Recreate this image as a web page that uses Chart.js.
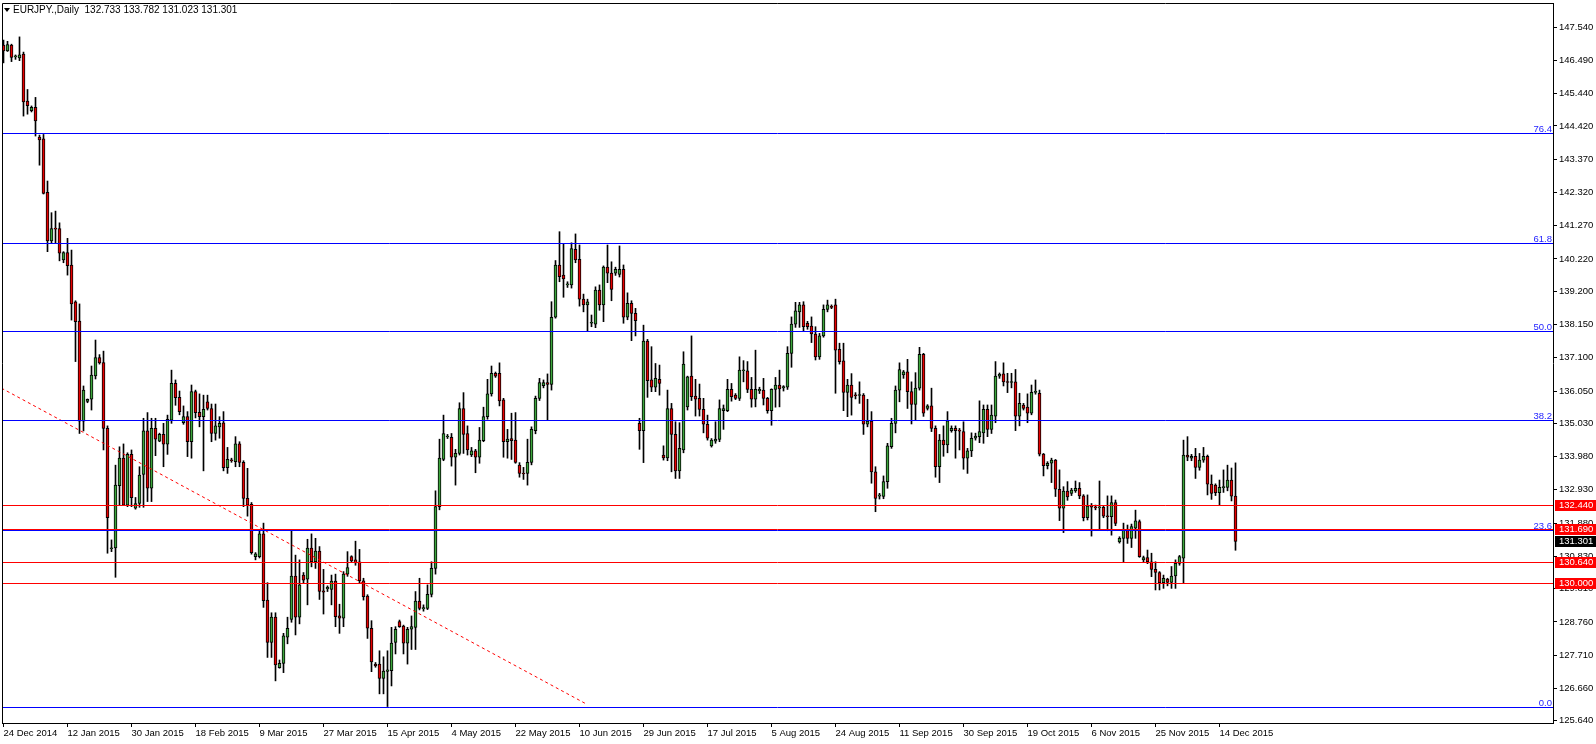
<!DOCTYPE html>
<html>
<head>
<meta charset="utf-8">
<script src="https://cdn.jsdelivr.net/npm/chart.js@4.4.1/dist/chart.umd.min.js"></script>
<style>
  html, body { margin: 0; padding: 0; background: #fff; }
  #wrap { width: 1596px; height: 744px; }
</style>
</head>
<body>
<div id="wrap"><canvas id="chart" width="1596" height="744"></canvas></div>
<script>
// EURJPY daily bars, one row per 16 bars (label spacing)
const opens = [
  146.97,146.79,146.97,146.60,146.57,146.69,145.20,144.90,145.01,144.07,144.01,142.32,140.79,141.18,141.18,140.19,
  140.42,140.03,138.87,138.26,135.10,135.72,135.79,136.53,137.11,136.95,134.87,131.07,131.10,133.06,133.93,132.45,
  134.05,132.35,132.50,133.42,134.79,132.98,134.87,134.47,134.68,134.37,135.13,136.29,135.85,135.05,135.24,134.45,
  136.03,135.38,135.24,135.71,135.50,134.71,134.92,135.05,133.63,133.87,133.82,134.38,133.80,132.66,132.47,130.82,
  130.82,131.54,129.45,128.11,128.91,127.32,127.45,128.28,128.84,130.21,128.91,130.24,130.11,131.09,130.66,131.00,
  129.74,129.80,129.79,130.05,128.95,128.88,130.27,130.82,130.72,130.66,130.06,129.58,128.56,127.43,127.43,126.98,
  127.20,127.22,128.11,128.77,128.63,128.09,128.53,128.59,129.42,129.17,129.19,129.63,130.45,132.40,133.89,134.60,
  134.59,133.96,134.08,135.50,134.71,134.03,134.16,133.96,134.48,135.24,135.96,136.61,136.61,135.77,134.45,134.55,
  134.50,133.71,133.45,133.45,133.80,134.80,135.82,136.22,136.32,136.26,138.38,140.03,139.71,139.40,139.40,140.52,
  140.21,138.95,138.77,138.19,138.16,139.24,138.77,139.96,139.77,139.77,139.73,139.89,138.38,138.82,138.50,135.03,
  134.80,137.63,136.40,136.17,136.42,134.03,133.94,135.50,134.68,133.53,134.19,135.55,136.52,135.89,135.82,135.47,
  135.00,134.32,134.47,134.52,135.43,135.43,136.10,135.92,135.82,136.69,136.69,136.10,135.79,136.06,136.08,135.82,
  135.43,136.10,136.24,136.15,136.17,137.24,138.16,138.55,138.77,138.19,138.10,137.85,137.13,137.79,138.63,138.71,
  138.77,137.37,137.00,136.01,136.24,135.92,135.91,135.92,135.00,135.10,133.50,132.73,132.72,133.19,134.29,135.03,
  136.08,136.56,136.66,136.03,135.63,136.14,137.21,135.50,135.58,134.87,133.66,134.50,134.35,134.80,134.87,134.82,
  134.77,133.93,134.16,134.56,134.61,134.73,135.47,134.84,135.26,136.52,136.59,136.34,136.32,136.34,135.26,135.61,
  135.54,135.35,136.01,135.98,134.06,133.69,133.77,133.87,132.95,132.35,132.89,132.82,132.90,132.98,132.74,132.05,
  132.40,132.38,132.36,132.38,132.10,132.08,132.53,131.29,131.40,131.66,131.40,131.72,131.93,130.72,130.79,130.66,
  130.42,130.32,130.00,130.11,130.01,130.21,130.61,130.77,134.03,133.93,133.99,133.64,133.87,133.99,133.11,133.08,
  132.84,133.00,133.01,133.24,132.733
];
const highs = [
  147.13,147.09,147.00,146.66,147.23,146.75,145.57,145.05,145.32,144.13,144.15,142.68,141.68,141.73,141.36,140.45,
  140.87,140.50,138.90,138.80,136.21,135.80,136.84,137.66,137.20,137.31,134.95,131.35,133.71,134.29,134.38,134.10,
  134.19,132.69,133.66,135.19,135.37,135.19,135.19,134.72,135.03,135.29,136.71,136.40,136.05,135.58,135.40,136.24,
  136.08,135.96,135.92,135.92,135.64,135.64,135.24,135.40,134.27,133.93,134.61,134.45,133.85,133.61,132.53,130.95,
  131.66,131.88,130.00,129.05,129.05,127.56,128.40,128.91,131.68,130.87,130.72,130.32,131.37,131.54,131.40,131.14,
  130.42,129.90,130.24,130.27,129.32,130.35,130.98,130.85,131.31,131.05,130.14,129.62,128.80,127.48,127.85,127.66,
  127.85,128.59,128.61,128.82,128.66,128.59,128.95,129.72,130.14,129.30,129.93,130.66,132.90,134.53,135.29,134.68,
  134.71,134.21,135.68,136.00,134.95,134.27,134.21,134.90,135.54,136.42,136.84,136.65,136.94,135.82,134.84,135.35,
  135.37,133.79,133.64,134.53,134.92,135.89,136.45,136.40,136.59,138.87,140.17,141.08,140.71,139.50,140.73,141.01,
  140.66,139.11,138.95,138.45,139.34,139.40,140.00,140.66,140.13,139.96,140.63,140.03,139.15,138.90,138.66,135.19,
  138.13,137.68,137.45,136.92,136.87,134.32,136.08,135.66,135.08,135.05,137.29,136.52,137.79,136.42,136.27,135.82,
  135.29,134.55,135.08,135.77,135.61,136.42,136.29,135.97,137.13,137.01,136.98,136.48,137.34,136.17,136.45,135.85,
  136.12,136.48,136.71,136.22,137.45,138.39,138.85,138.85,138.87,138.25,138.39,138.08,137.87,138.77,138.92,138.77,
  138.95,137.56,137.56,136.42,136.60,136.00,136.34,135.97,135.79,135.40,133.66,132.82,133.37,134.40,135.19,136.21,
  136.94,136.70,137.05,136.34,136.63,137.43,137.24,135.62,136.14,134.95,134.68,134.95,135.40,134.95,134.95,134.87,
  135.08,134.24,134.73,134.72,135.74,135.61,135.61,135.61,136.98,136.62,136.94,136.61,136.61,136.73,135.98,135.66,
  135.96,136.24,136.40,136.08,134.08,133.82,133.93,133.89,133.56,133.03,133.19,132.98,133.21,133.16,132.78,132.77,
  132.50,132.45,133.21,132.42,132.74,132.74,132.61,131.45,131.88,131.82,131.85,132.29,131.98,130.84,131.03,130.93,
  130.66,130.35,130.24,130.14,130.51,130.72,130.86,134.50,134.61,134.05,134.24,134.08,134.27,134.03,133.40,133.12,
  133.24,133.56,133.71,133.62,133.782
];
const lows = [
  146.41,146.77,146.45,146.52,146.48,144.73,144.79,144.86,144.10,143.18,142.27,140.45,140.71,140.71,140.16,140.10,
  139.71,138.29,136.98,134.71,134.79,135.68,135.45,136.43,136.90,134.19,130.93,130.98,130.17,132.45,132.43,132.40,
  132.40,132.32,132.38,132.38,132.56,132.56,134.01,134.45,133.66,134.05,135.03,135.60,135.30,135.00,133.98,133.93,
  135.20,134.92,133.53,135.45,134.45,134.50,134.56,133.53,133.45,133.80,133.66,133.66,132.40,132.10,130.90,130.72,
  130.78,129.22,127.64,127.64,126.90,127.30,127.16,128.07,128.75,128.35,128.70,129.98,129.30,130.50,130.45,129.47,
  129.01,129.72,129.30,128.61,128.40,128.61,130.20,130.65,130.55,129.98,129.45,128.24,127.19,127.33,126.49,126.49,
  126.09,126.74,127.75,128.59,127.75,127.43,127.89,127.89,129.14,129.10,129.15,129.55,130.27,132.30,133.85,134.55,
  133.68,133.08,134.03,134.08,134.03,133.98,133.47,133.77,134.45,135.16,135.89,136.48,135.58,133.96,133.93,133.89,
  133.77,133.33,133.26,133.08,133.72,134.70,135.75,136.15,135.13,136.08,138.35,139.50,139.01,139.32,139.30,140.10,
  138.73,138.55,137.95,138.08,138.05,138.60,138.24,139.47,138.90,139.70,139.65,138.19,138.30,137.64,137.79,134.21,
  133.79,135.85,136.03,136.03,135.92,133.87,133.85,133.50,133.29,133.29,134.10,135.45,135.75,135.26,135.26,134.73,
  134.50,134.28,134.40,134.45,134.84,135.40,135.73,135.78,135.75,136.34,136.00,135.54,135.55,135.97,135.61,135.35,
  134.97,135.54,135.55,136.05,136.10,136.80,138.06,138.06,137.95,138.00,137.58,137.03,137.05,137.75,138.55,138.65,
  135.98,136.90,135.43,135.24,135.29,135.80,135.66,134.68,134.92,133.14,132.24,132.64,132.65,132.98,134.24,134.73,
  135.71,136.45,135.50,135.01,135.13,136.08,135.25,135.45,134.77,133.33,133.16,133.99,134.10,134.75,133.93,134.19,
  133.58,133.45,133.98,134.50,134.42,134.40,134.61,134.71,135.05,136.45,136.21,136.00,136.15,134.80,134.95,135.45,
  135.05,135.30,135.95,134.00,133.37,133.59,133.16,132.72,131.96,131.58,132.60,132.75,132.85,132.65,131.95,131.98,
  131.47,132.30,131.66,132.05,131.64,131.50,131.80,131.25,130.66,131.24,131.11,131.40,130.80,130.65,130.60,130.19,
  129.77,129.77,129.82,129.90,129.82,129.82,130.55,129.98,133.85,133.85,133.29,133.55,133.80,132.77,132.63,132.75,
  132.45,132.85,132.90,132.58,131.023
];
const closes = [
  146.79,146.99,146.58,146.62,146.66,145.18,145.06,145.01,144.58,143.98,142.29,140.79,141.18,141.16,140.40,140.42,
  140.01,138.80,138.24,135.10,136.08,135.79,136.55,137.11,136.94,134.87,132.05,131.10,133.08,133.93,132.45,134.05,
  132.68,132.50,133.40,134.79,132.98,134.87,134.53,134.68,134.37,135.16,136.29,135.84,135.40,135.24,134.45,136.03,
  135.37,135.24,135.47,135.50,134.71,134.95,135.03,133.63,133.89,133.85,134.38,133.80,132.66,132.45,130.95,130.91,
  131.54,129.43,128.11,128.91,127.40,127.45,128.32,128.56,130.21,128.91,129.93,130.08,131.09,130.66,131.00,129.72,
  129.70,129.86,130.05,128.93,128.88,130.27,130.48,130.69,130.62,130.06,129.56,128.56,127.50,127.37,126.98,127.21,
  127.25,128.09,128.53,128.61,128.09,128.53,128.61,129.42,129.19,129.21,129.63,130.45,132.40,133.93,134.71,134.62,
  133.96,134.08,135.50,134.68,134.19,134.16,133.96,134.50,135.24,135.96,136.61,136.52,135.74,134.45,134.53,134.48,
  133.80,133.45,133.43,133.80,134.84,135.82,136.32,136.32,136.26,138.38,140.03,139.66,139.59,139.42,140.55,140.19,
  138.95,138.77,138.87,138.21,139.24,138.77,139.96,139.77,139.26,139.89,139.89,138.38,138.82,138.50,138.27,134.80,
  137.63,136.38,136.17,136.45,136.29,133.94,135.50,134.68,133.53,134.24,136.90,136.50,135.87,135.79,135.47,135.00,
  134.56,134.50,134.53,135.50,135.50,136.10,135.87,135.82,136.71,136.70,136.10,135.79,136.10,136.10,135.82,135.43,
  136.10,136.24,136.12,136.19,137.24,138.16,138.58,138.77,138.08,138.08,137.85,137.13,137.79,138.63,138.77,138.69,
  137.34,136.98,136.01,136.24,135.85,135.90,135.93,135.00,135.10,133.50,132.66,132.77,133.19,134.32,135.03,136.08,
  136.73,136.66,136.03,135.63,136.14,137.21,135.35,135.58,134.87,133.66,134.50,134.35,135.11,134.87,134.80,134.78,
  133.93,134.16,134.56,134.63,134.77,135.47,134.84,135.29,136.52,136.58,136.34,136.32,136.34,135.26,135.66,135.50,
  135.35,136.01,136.04,134.06,133.69,133.77,133.87,132.95,132.35,132.89,132.71,132.92,132.98,132.74,132.05,132.42,
  132.38,132.36,132.38,132.10,132.08,132.53,131.87,131.40,131.66,131.40,131.77,131.95,130.82,130.79,130.66,130.42,
  130.32,130.00,130.14,130.01,130.21,130.61,130.82,134.03,133.96,133.99,133.64,133.87,133.99,133.11,132.82,132.84,
  133.01,133.02,133.24,132.73,131.301
];

// axis labels
const dateLabels = [
  "24 Dec 2014", "12 Jan 2015", "30 Jan 2015", "18 Feb 2015", "9 Mar 2015", "27 Mar 2015", "15 Apr 2015",
  "4 May 2015", "22 May 2015", "10 Jun 2015", "29 Jun 2015", "17 Jul 2015", "5 Aug 2015", "24 Aug 2015",
  "11 Sep 2015", "30 Sep 2015", "19 Oct 2015", "6 Nov 2015", "25 Nov 2015", "14 Dec 2015"
];
const barsPerLabel = 16;
const priceTicks = [
  147.54, 146.49, 145.44, 144.42, 143.37, 142.32, 141.27, 140.22, 139.20, 138.15, 137.10,
  136.05, 135.03, 133.98, 132.93, 131.88, 130.83, 129.81, 128.76, 127.71, 126.66, 125.64
];

// drawn objects
const fibLow = 126.07;
const fibHigh = 149.80;
const fibRatios = [0, 23.6, 38.2, 50.0, 61.8, 76.4];
const redLevels = [132.44, 131.69, 130.64, 130.00];
const lastPrice = 131.301;
const trendX = [-0.5, 146];
const trendY = [136.14, 126.15];

const title = "EURJPY.,Daily  132.733 133.782 131.023 131.301";

const BULL = "#3ca53c";
const BEAR = "#e60000";
const FONT = '"Liberation Sans", Arial, "DejaVu Sans", sans-serif';

const wickData = opens.map((o, i) => ({ x: i, y: [lows[i], highs[i]] }));
const bodyData = opens.map((o, i) => ({ x: i, y: [o, closes[i]] }));
const bodyColors = opens.map((o, i) => (closes[i] >= o ? BULL : BEAR));
const trendData = trendX.map((x, k) => ({ x, y: trendY[k] }));

// =========================
// overlays: levels, fib labels, price tags, title, frame
// =========================
const mtOverlay = {
  id: "mtOverlay",
  afterDatasetsDraw(chart) {
    const { ctx, chartArea: a, scales: { y } } = chart;
    ctx.save();
    ctx.lineWidth = 1;
    const hline = (v, color) => {
      const py = Math.round(y.getPixelForValue(v)) + 0.5;
      ctx.strokeStyle = color;
      ctx.beginPath();
      ctx.moveTo(a.left, py);
      ctx.lineTo(a.right, py);
      ctx.stroke();
      return py;
    };
    ctx.font = "9.5px " + FONT;
    ctx.textAlign = "right";
    ctx.textBaseline = "alphabetic";
    fibRatios.forEach(r => {
      const py = hline(fibLow + (fibHigh - fibLow) * r / 100, "#0000ff");
      ctx.fillStyle = "#2424ff";
      ctx.fillText(r.toFixed(1), a.right - 1, py - 2);
    });
    redLevels.forEach(v => hline(v, "#ff0000"));
    ctx.restore();
  },
  afterDraw(chart) {
    const { ctx, chartArea: a, scales: { y } } = chart;
    ctx.save();
    // frame left + top
    ctx.strokeStyle = "#000";
    ctx.lineWidth = 1;
    ctx.beginPath();
    ctx.moveTo(a.left + 0.5, a.bottom);
    ctx.lineTo(a.left + 0.5, a.top + 0.5);
    ctx.lineTo(a.right, a.top + 0.5);
    ctx.stroke();

    // price tags on the axis
    ctx.font = "9.5px " + FONT;
    ctx.textAlign = "left";
    ctx.textBaseline = "middle";
    const tag = (v, bg) => {
      const py = Math.round(y.getPixelForValue(v));
      ctx.fillStyle = bg;
      ctx.fillRect(a.right + 2, py - 5, chart.width - a.right - 2, 11);
      ctx.fillStyle = "#fff";
      ctx.fillText(v.toFixed(3), a.right + 6, py + 0.5);
    };
    redLevels.forEach(v => tag(v, "#ff0000"));
    tag(lastPrice, "#000");

    // title
    ctx.fillStyle = "#000";
    ctx.beginPath();
    ctx.moveTo(4, 8);
    ctx.lineTo(10, 8);
    ctx.lineTo(7, 12);
    ctx.closePath();
    ctx.fill();
    ctx.font = "10px " + FONT;
    ctx.textBaseline = "middle";
    ctx.fillText(title, 13, 10.5);
    ctx.restore();
  }
};

const ctx = document.getElementById("chart").getContext("2d");
new Chart(ctx, {
  type: "bar",
  data: {
    datasets: [
      {
        type: "line",
        label: "trend",
        data: trendData,
        borderColor: "#ff0000",
        borderWidth: 1,
        borderDash: [3, 3],
        pointRadius: 0,
        fill: false,
        order: 0
      },
      {
        label: "body",
        data: bodyData,
        backgroundColor: bodyColors,
        borderColor: "#000",
        borderWidth: 1,
        borderSkipped: false,
        barThickness: 3,
        minBarLength: 1,
        grouped: false,
        order: 1
      },
      {
        label: "wick",
        data: wickData,
        backgroundColor: "#000",
        borderWidth: 0,
        barThickness: 1,
        grouped: false,
        order: 2
      }
    ]
  },
  options: {
    responsive: false,
    animation: false,
    devicePixelRatio: 1,
    layout: { padding: { left: 2, top: 3, right: 0, bottom: 0 } },
    plugins: { legend: { display: false }, tooltip: { enabled: false } },
    scales: {
      x: {
        type: "linear",
        min: -0.375,
        max: 387.375,
        offset: false,
        grid: { display: true, offset: false, drawOnChartArea: false, drawTicks: true, tickLength: 4, color: "#000" },
        border: { display: true, color: "#000" },
        afterBuildTicks: (scale) => {
          scale.ticks = dateLabels.map((_, k) => ({ value: k * barsPerLabel }));
        },
        afterFit: (scale) => {
          scale.height = 21;
          scale.paddingLeft = 0;
          scale.paddingRight = 0;
        },
        ticks: {
          autoSkip: false,
          maxRotation: 0,
          align: "start",
          padding: 1,
          color: "#000",
          font: { family: FONT, size: 9.5 },
          callback: (value, index) => dateLabels[index]
        }
      },
      y: {
        type: "linear",
        position: "right",
        min: 125.57,
        max: 148.30,
        grid: { display: true, drawOnChartArea: false, drawTicks: true, tickLength: 4, color: "#000" },
        border: { display: true, color: "#000" },
        afterBuildTicks: (scale) => {
          scale.ticks = priceTicks.map(v => ({ value: v }));
        },
        afterFit: (scale) => {
          scale.width = 43;
          scale.paddingTop = 0;
          scale.paddingBottom = 0;
        },
        ticks: {
          padding: 2,
          color: "#000",
          font: { family: FONT, size: 9.5 },
          callback: (value) => value.toFixed(3)
        }
      }
    }
  },
  plugins: [mtOverlay]
});
</script>
</body>
</html>
